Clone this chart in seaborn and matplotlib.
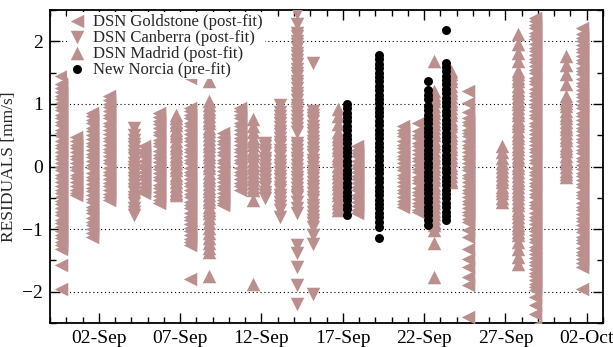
import pandas as pd
import matplotlib
matplotlib.use("Agg")
import matplotlib.pyplot as plt
import matplotlib.dates as mdates
from matplotlib.ticker import MultipleLocator
import seaborn as sns

# labels of the four data sets
gold_label = "DSN Goldstone (post-fit)"
canb_label = "DSN Canberra (post-fit)"
madr_label = "DSN Madrid (post-fit)"
nnor_label = "New Norcia (pre-fit)"

# DSN Goldstone passes (pass time, residuals in mm/s)
gold_times = ["2019-08-30 16:00", "2019-08-31 14:00", "2019-09-01 14:00", "2019-09-02 15:00",
              "2019-09-04 19:00", "2019-09-05 17:00", "2019-09-07 14:00", "2019-09-09 16:00",
              "2019-09-10 17:00", "2019-09-17 21:00", "2019-09-20 17:00", "2019-09-21 15:00",
              "2019-09-24 17:00", "2019-09-28 20:00", "2019-10-01 17:00"]
gold_res = [
    [1.45, 1.32, 1.26, 1.19, 1.13, 1.08, 1.01, 0.95, 0.90, 0.83, 0.77, 0.71, 0.66, 0.59, 0.53,
     0.48, 0.41, 0.35, 0.30, 0.23, 0.17, 0.12, 0.05, -0.01, -0.06, -0.13, -0.19, -0.24, -0.31,
     -0.37, -0.42, -0.49, -0.55, -0.60, -0.67, -0.73, -0.78, -0.85, -0.91, -0.96, -1.03, -1.09,
     -1.14, -1.20, -1.26, -1.31, -1.58, -1.95],
    [0.47, 0.41, 0.35, 0.30, 0.23, 0.17, 0.12, 0.05, -0.01, -0.06, -0.13, -0.19, -0.24, -0.31,
     -0.37, -0.42, -0.46],
    [0.86, 0.80, 0.74, 0.69, 0.62, 0.56, 0.51, 0.44, 0.38, 0.33, 0.26, 0.20, 0.15, 0.08, 0.02,
     -0.03, -0.10, -0.16, -0.21, -0.28, -0.34, -0.39, -0.46, -0.52, -0.57, -0.64, -0.70, -0.75,
     -0.82, -0.88, -0.93, -1.00, -1.06, -1.12],
    [1.12, 1.06, 1.00, 0.95, 0.88, 0.82, 0.77, 0.70, 0.64, 0.59, 0.52, 0.46, 0.41, 0.34, 0.28,
     0.23, 0.16, 0.10, 0.05, -0.02, -0.08, -0.13, -0.20, -0.26, -0.31, -0.38, -0.44, -0.49, -0.53],
    [0.33, 0.27, 0.21, 0.16, 0.09, 0.03, -0.02, -0.09, -0.15, -0.20, -0.27, -0.33, -0.38, -0.43],
    [0.85, 0.79, 0.73, 0.68, 0.61, 0.55, 0.50, 0.43, 0.37, 0.32, 0.25, 0.19, 0.14, 0.07, 0.01,
     -0.04, -0.11, -0.17, -0.22, -0.29, -0.35, -0.40, -0.47, -0.53, -0.58],
    [1.42, 0.94, 0.88, 0.82, 0.77, 0.70, 0.64, 0.59, 0.52, 0.46, 0.41, 0.34, 0.28, 0.23, 0.16,
     0.10, 0.05, -0.02, -0.08, -0.13, -0.20, -0.26, -0.31, -0.38, -0.44, -0.49, -0.56, -0.62,
     -0.67, -0.74, -0.80, -0.85, -0.92, -0.98, -1.03, -1.10, -1.16, -1.21, -1.26, -1.80],
    [0.53, 0.47, 0.41, 0.36, 0.29, 0.23, 0.18, 0.11, 0.05, 0.00, -0.07, -0.13, -0.18, -0.25,
     -0.31, -0.36, -0.43, -0.49, -0.54, -0.59, -0.62],
    [0.94, 0.88, 0.82, 0.77, 0.70, 0.64, 0.59, 0.52, 0.46, 0.41, 0.34, 0.28, 0.23, 0.16, 0.10,
     0.05, -0.02, -0.08, -0.13, -0.20, -0.26, -0.31, -0.37],
    [0.33, 0.27, 0.21, 0.16, 0.09, 0.03, -0.02, -0.09, -0.15, -0.20, -0.27, -0.33, -0.38, -0.45,
     -0.51, -0.56, -0.63, -0.69, -0.74],
    [0.65, 0.59, 0.53, 0.48, 0.41, 0.35, 0.30, 0.23, 0.17, 0.12, 0.05, -0.01, -0.06, -0.13,
     -0.19, -0.24, -0.31, -0.37, -0.42, -0.49, -0.55, -0.60, -0.64],
    [0.70, 0.56, 0.50, 0.45, 0.38, 0.32, 0.27, 0.20, 0.14, 0.09, 0.02, -0.04, -0.09, -0.16,
     -0.22, -0.27, -0.34, -0.40, -0.45, -0.52, -0.58, -0.63, -0.69, -0.73],
    [1.21, 1.02, 0.87, 0.77, 0.71, 0.66, 0.59, 0.53, 0.48, 0.41, 0.35, 0.30, 0.23, 0.17, 0.12,
     0.05, -0.01, -0.06, -0.13, -0.19, -0.24, -0.31, -0.37, -0.42, -0.49, -0.55, -0.60, -0.67,
     -0.73, -0.78, -0.84, -0.88, -1.02, -1.13, -1.31, -1.47, -1.61, -1.77, -1.90, -2.41],
    [2.38, 2.32, 2.26, 2.21, 2.14, 2.08, 2.03, 1.96, 1.90, 1.85, 1.78, 1.72, 1.67, 1.60, 1.54,
     1.49, 1.42, 1.36, 1.31, 1.24, 1.18, 1.13, 1.06, 1.00, 0.95, 0.88, 0.82, 0.77, 0.70, 0.64,
     0.59, 0.52, 0.46, 0.41, 0.34, 0.28, 0.23, 0.16, 0.10, 0.05, -0.02, -0.08, -0.13, -0.20,
     -0.26, -0.31, -0.38, -0.44, -0.49, -0.56, -0.62, -0.67, -0.74, -0.80, -0.85, -0.92, -0.98,
     -1.03, -1.10, -1.16, -1.21, -1.28, -1.34, -1.39, -1.46, -1.52, -1.57, -1.64, -1.70, -1.75,
     -1.82, -1.88, -1.93, -1.98, -2.09, -2.22, -2.35, -2.54],
    [2.22, 2.12, 2.06, 2.01, 1.94, 1.88, 1.83, 1.76, 1.70, 1.65, 1.58, 1.52, 1.47, 1.40, 1.34,
     1.29, 1.22, 1.16, 1.11, 1.04, 0.98, 0.93, 0.86, 0.80, 0.75, 0.68, 0.62, 0.57, 0.50, 0.44,
     0.39, 0.32, 0.26, 0.21, 0.14, 0.08, 0.03, -0.04, -0.10, -0.15, -0.22, -0.28, -0.33, -0.40,
     -0.46, -0.51, -0.58, -0.64, -0.69, -0.76, -0.82, -0.87, -0.94, -1.00, -1.05, -1.12, -1.18,
     -1.23, -1.30, -1.36, -1.41, -1.48, -1.54, -1.61, -1.95],
]

# DSN Canberra passes
canb_times = ["2019-09-04 04:00", "2019-09-12 05:00", "2019-09-13 03:00",
              "2019-09-14 05:00", "2019-09-15 04:00"]
canb_res = [
    [0.62, 0.50, 0.42, 0.36, 0.31, 0.24, 0.18, 0.13, 0.06, 0.00, -0.05, -0.12, -0.18, -0.23,
     -0.30, -0.36, -0.41, -0.48, -0.54, -0.59, -0.66, -0.72, -0.78],
    [0.38, 0.32, 0.26, 0.21, 0.14, 0.08, 0.03, -0.04, -0.10, -0.15, -0.22, -0.28, -0.33, -0.40,
     -0.46, -0.50],
    [0.99, 0.87, 0.81, 0.75, 0.70, 0.63, 0.57, 0.52, 0.45, 0.39, 0.34, 0.27, 0.21, 0.16, 0.09,
     0.03, -0.02, -0.09, -0.15, -0.20, -0.27, -0.33, -0.38, -0.45, -0.51, -0.56, -0.63, -0.70, -0.80],
    [2.46, 2.28, 2.14, 2.08, 2.01, 1.95, 1.89, 1.82, 1.76, 1.70, 1.63, 1.56, 1.50, 1.44, 1.37,
     1.31, 1.25, 1.18, 1.12, 1.06, 0.99, 0.93, 0.87, 0.80, 0.74, 0.68, 0.61, 0.55, 0.38, 0.32,
     0.26, 0.20, 0.14, 0.08, 0.02, -0.04, -0.10, -0.16, -0.22, -0.28, -0.34, -0.40, -0.46, -0.49,
     -0.57, -0.66, -0.75, -1.25, -1.38, -1.61, -1.90, -2.19],
    [1.66, 0.89, 0.83, 0.77, 0.72, 0.65, 0.59, 0.54, 0.47, 0.41, 0.36, 0.29, 0.23, 0.18, 0.11,
     0.05, 0.00, -0.07, -0.13, -0.18, -0.25, -0.31, -0.36, -0.43, -0.49, -0.54, -0.61, -0.67,
     -0.72, -0.79, -0.85, -0.90, -0.97, -1.10, -1.24, -2.03],
]

# DSN Madrid passes
madr_times = ["2019-09-06 18:00", "2019-09-08 19:00", "2019-09-11 11:00", "2019-09-16 17:00",
              "2019-09-22 15:00", "2019-09-23 16:00", "2019-09-26 19:00", "2019-09-27 19:00",
              "2019-09-30 18:00"]
madr_res = [
    [0.83, 0.77, 0.71, 0.66, 0.59, 0.53, 0.48, 0.41, 0.35, 0.30, 0.23, 0.17, 0.12, 0.05, -0.01,
     -0.06, -0.13, -0.19, -0.24, -0.31, -0.37, -0.42, -0.46],
    [1.37, 1.04, 0.98, 0.92, 0.87, 0.80, 0.74, 0.69, 0.62, 0.56, 0.51, 0.44, 0.38, 0.33, 0.26,
     0.20, 0.15, 0.08, 0.02, -0.03, -0.10, -0.16, -0.21, -0.28, -0.34, -0.39, -0.46, -0.52,
     -0.57, -0.64, -0.70, -0.75, -0.82, -0.90, -0.98, -1.06, -1.14, -1.22, -1.30, -1.37, -1.75],
    [0.76, 0.65, 0.55, 0.46, 0.40, 0.34, 0.27, 0.21, 0.16, 0.09, 0.03, -0.02, -0.09, -0.15,
     -0.20, -0.27, -0.33, -0.38, -0.53, -1.87],
    [0.92, 0.80, 0.68, 0.55, 0.49, 0.44, 0.37, 0.31, 0.26, 0.19, 0.13, 0.08, 0.01, -0.05, -0.10,
     -0.17, -0.23, -0.28, -0.35, -0.41, -0.46, -0.53, -0.59, -0.64, -0.69],
    [1.69, 1.21, 1.15, 1.09, 1.04, 0.97, 0.91, 0.86, 0.79, 0.73, 0.68, 0.61, 0.55, 0.50, 0.43,
     0.37, 0.32, 0.25, 0.19, 0.14, 0.07, 0.01, -0.04, -0.11, -0.17, -0.22, -0.29, -0.35, -0.40,
     -0.47, -0.53, -0.58, -0.65, -0.71, -0.76, -0.83, -0.89, -0.94, -1.02, -1.23, -1.77],
    [1.53, 1.47, 1.41, 1.36, 1.29, 1.23, 1.18, 1.11, 1.05, 1.00, 0.93, 0.87, 0.82, 0.75, 0.69,
     0.64, 0.57, 0.51, 0.46, 0.39, 0.33, 0.28, 0.21, 0.15, 0.10, 0.03, -0.03, -0.08, -0.15,
     -0.21, -0.25],
    [0.33, 0.23, 0.14, 0.05, -0.01, -0.07, -0.14, -0.20, -0.25, -0.32, -0.38, -0.43, -0.50, -0.57],
    [2.12, 1.95, 1.82, 1.68, 1.53, 1.47, 1.41, 1.36, 1.29, 1.23, 1.18, 1.11, 1.05, 1.00, 0.93,
     0.87, 0.82, 0.75, 0.69, 0.64, 0.57, 0.51, 0.46, 0.39, 0.33, 0.28, 0.21, 0.15, 0.10, 0.03,
     -0.03, -0.08, -0.15, -0.21, -0.26, -0.33, -0.39, -0.44, -0.51, -0.57, -0.62, -0.69, -0.75,
     -0.80, -0.87, -0.93, -0.98, -1.04, -1.10, -1.20, -1.32, -1.44, -1.55],
    [1.77, 1.62, 1.47, 1.32, 1.13, 1.07, 1.01, 0.96, 0.89, 0.83, 0.78, 0.71, 0.65, 0.60, 0.53,
     0.47, 0.42, 0.35, 0.29, 0.24, 0.17, 0.11, 0.06, -0.01, -0.07, -0.12, -0.17],
]

# New Norcia passes (pre-fit)
nnor_times = ["2019-09-17 06:00", "2019-09-19 05:00", "2019-09-22 06:00", "2019-09-23 08:00"]
nnor_res = [
    [1.00, 0.93, 0.86, 0.79, 0.72, 0.65, 0.58, 0.51, 0.44, 0.37, 0.30, 0.23, 0.16, 0.09, 0.02,
     -0.05, -0.12, -0.19, -0.26, -0.33, -0.40, -0.47, -0.54, -0.61, -0.68, -0.77],
    [1.78, 1.71, 1.64, 1.57, 1.50, 1.43, 1.36, 1.29, 1.22, 1.15, 1.08, 1.01, 0.94, 0.87, 0.80,
     0.73, 0.66, 0.59, 0.52, 0.45, 0.38, 0.31, 0.24, 0.17, 0.10, 0.03, -0.04, -0.11, -0.18,
     -0.25, -0.32, -0.39, -0.46, -0.53, -0.60, -0.67, -0.74, -0.81, -0.89, -0.97, -1.15],
    [1.37, 1.22, 1.14, 1.08, 0.97, 0.90, 0.83, 0.76, 0.69, 0.62, 0.55, 0.48, 0.41, 0.34, 0.27,
     0.20, 0.13, 0.06, -0.01, -0.08, -0.15, -0.22, -0.29, -0.36, -0.43, -0.50, -0.57, -0.64,
     -0.71, -0.78, -0.86, -0.94],
    [2.18, 1.66, 1.59, 1.52, 1.45, 1.38, 1.31, 1.24, 1.17, 1.10, 1.03, 0.96, 0.89, 0.82, 0.75,
     0.68, 0.61, 0.54, 0.47, 0.40, 0.33, 0.26, 0.19, 0.12, 0.05, -0.02, -0.09, -0.16, -0.23,
     -0.30, -0.37, -0.44, -0.51, -0.58, -0.65, -0.72, -0.79, -0.86],
]


# long table: one row per residual
rows = []
for label, times, res in [(gold_label, gold_times, gold_res),
                          (canb_label, canb_times, canb_res),
                          (madr_label, madr_times, madr_res),
                          (nnor_label, nnor_times, nnor_res)]:
    for t, vals in zip(times, res):
        for v in vals:
            rows.append((label, pd.Timestamp(t), v))
df = pd.DataFrame(rows, columns=["station", "time", "residual"])

sns.set_style("ticks")
plt.rcParams["font.family"] = ["Liberation Serif", "DejaVu Serif"]

pink = "#bc8f8f"
styles = {
    gold_label: dict(marker="<", color=pink, s=95),
    canb_label: dict(marker="v", color=pink, s=95),
    madr_label: dict(marker="^", color=pink, s=95),
    nnor_label: dict(marker="o", color="black", s=42),
}

fig = plt.figure(figsize=(6.13, 3.47), dpi=100)
ax = fig.add_axes([50 / 613, 1 - 323 / 347, 553 / 613, 313 / 347])

for label in [gold_label, canb_label, madr_label, nnor_label]:
    sub = df[df.station == label]
    sns.scatterplot(data=sub, x="time", y="residual", linewidth=0, label=label,
                    ax=ax, zorder=3, **styles[label])

# axes
ax.set_xlim(pd.Timestamp("2019-08-30"), pd.Timestamp("2019-10-03"))
ax.set_ylim(-2.5, 2.5)
ax.xaxis.set_major_locator(mdates.DayLocator(bymonthday=[2, 7, 12, 17, 22, 27]))
ax.xaxis.set_minor_locator(mdates.DayLocator())
ax.xaxis.set_major_formatter(mdates.DateFormatter("%d-%b"))
ax.yaxis.set_major_locator(MultipleLocator(1))
ax.yaxis.set_minor_locator(MultipleLocator(0.5))
ax.tick_params(which="both", direction="in", top=True, right=True, width=1.0, colors="black")
ax.tick_params(which="major", length=7, labelsize=14, pad=5)
ax.tick_params(which="minor", length=4)
for sp in ax.spines.values():
    sp.set_linewidth(1.3)
    sp.set_color("black")

ax.grid(axis="y", which="major", color="black", linestyle=(0, (1, 2.5)), linewidth=0.8)
ax.set_axisbelow(True)
ax.set_xlabel("")
ax.set_ylabel("RESIDUALS [mm/s]", fontsize=12.5, labelpad=4)

# legend
leg = ax.legend(loc="upper left", bbox_to_anchor=(0.030, 0.994), fontsize=12,
                frameon=True, facecolor="white", edgecolor="none", framealpha=1,
                borderpad=0.1, labelspacing=0.0, handletextpad=0.5, handlelength=1.0,
                borderaxespad=0.0)

fig.savefig("out.png", dpi=100)
